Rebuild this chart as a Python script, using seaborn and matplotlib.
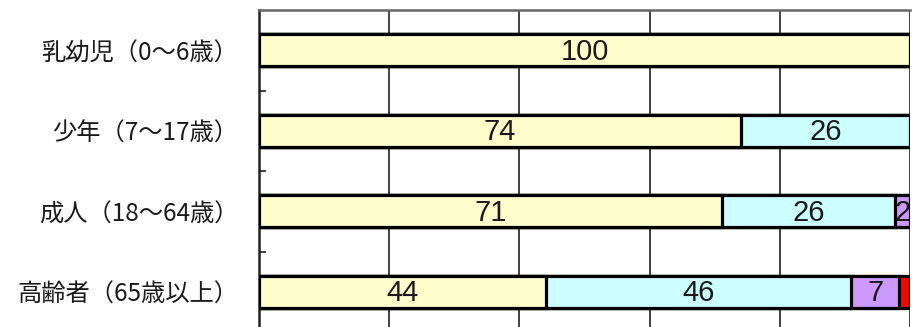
import matplotlib
matplotlib.use('Agg')
import matplotlib.pyplot as plt
import seaborn as sns
import numpy as np

# age groups and share of each segment (%)
groups = ['乳幼児（0～6歳）', '少年（7～17歳）', '成人（18～64歳）', '高齢者（65歳以上）']
seg1 = [100.0, 74.0, 71.1, 44.1]
seg2 = [0.0, 26.0, 26.6, 46.9]
seg3 = [0.0, 0.0, 2.3, 7.3]
seg4 = [0.0, 0.0, 0.0, 1.7]
colors = ['#FFFFCC', '#CCFFFF', '#CC99FF', '#FF0000']
show_label = [True, True, True, False]

sns.set_style('white')
plt.rcParams['font.family'] = ['Noto Sans CJK JP', 'DejaVu Sans']

series = np.array([seg1, seg2, seg3, seg4])
cum = series.cumsum(axis=0)

fig = plt.figure(figsize=(9.24, 3.27), dpi=100)
ax = fig.add_axes([259 / 924, -5 / 327, 651 / 924, 322 / 327])

# draw cumulative bars from the longest to the shortest so they look stacked
n_before = 0
patches_by_series = {}
for k in range(len(series) - 1, -1, -1):
    sns.barplot(x=cum[k], y=groups, color=colors[k], orient='h', width=0.4,
                edgecolor='black', linewidth=2.3, saturation=1, ax=ax, zorder=3)
    patches_by_series[k] = ax.patches[n_before:]
    n_before = len(ax.patches)

for k in range(len(series)):
    if not show_label[k]:
        continue
    for i, v in enumerate(series[k]):
        if v <= 0:
            continue
        t = ax.text(cum[k][i] - v / 2, i + 0.02, str(int(v)), ha='center', va='center',
                    fontsize=21, color='#1a1a1a', family=['Liberation Sans', 'DejaVu Sans'],
                    zorder=5)
        if v < 5:
            # narrow segment: keep the number inside its box
            t.set_clip_path(patches_by_series[k][i])

ax.set_xlim(0, 100)
ax.set_ylim(3.5, -0.5)
ax.set_xticks([20, 40, 60, 80, 100])
ax.set_xticklabels([])
ax.tick_params(axis='x', length=0)
ax.xaxis.grid(True, color='#333333', linewidth=1.3, zorder=0)
ax.set_axisbelow(True)

ax.set_yticks(range(len(groups)))
ax.set_yticklabels(groups, fontsize=17.5, color='#1a1a1a')
ax.tick_params(axis='y', which='major', length=0, pad=15)
ax.set_yticks([0.5, 1.5, 2.5], minor=True)
ax.tick_params(axis='y', which='minor', left=True, direction='in', length=5,
               width=1.3, color='#333333')
ax.set_xlabel('')
ax.set_ylabel('')

for side in ['right', 'bottom']:
    ax.spines[side].set_visible(False)
ax.spines['left'].set_color('#222222')
ax.spines['left'].set_linewidth(1.8)
ax.spines['top'].set_color('#666666')
ax.spines['top'].set_linewidth(1.8)

fig.savefig('out.png', dpi=100)
